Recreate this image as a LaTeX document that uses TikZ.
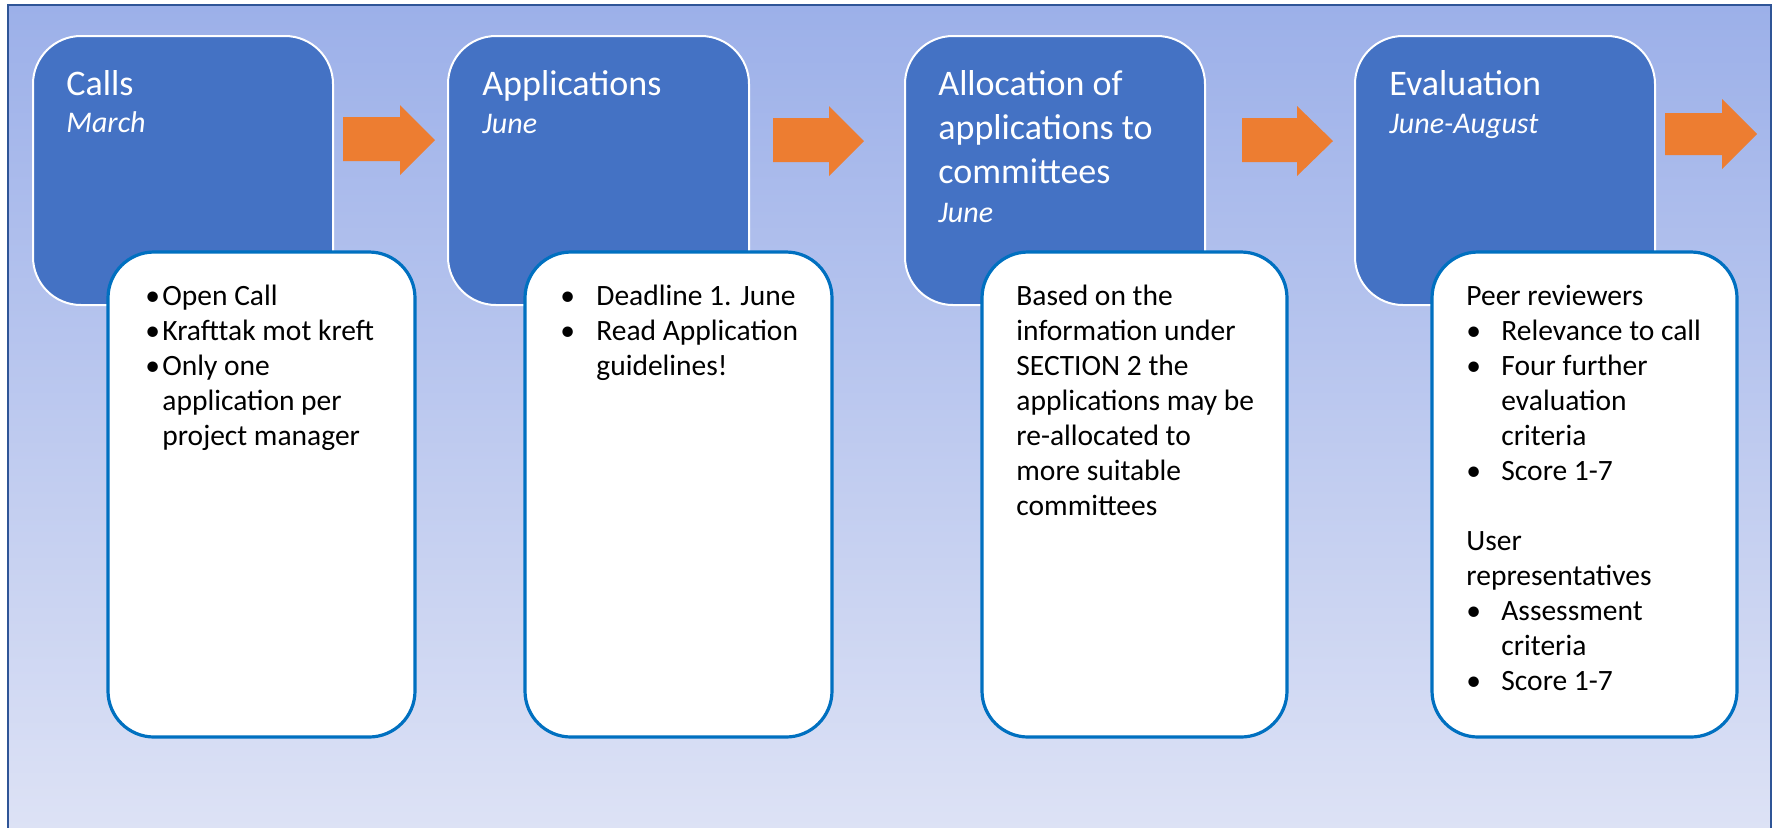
\documentclass[tikz,border=0pt]{standalone}
\usepackage{fontspec}
\setmainfont{Carlito}

\definecolor{bgtop}{HTML}{9CB0E9}
\definecolor{bgbot}{HTML}{DDE2F5}
\definecolor{framecol}{HTML}{2F5597}
\definecolor{phaseblue}{HTML}{4472C4}
\definecolor{noteblue}{HTML}{0070C0}
\definecolor{flowcol}{HTML}{ED7D31}

% bullet with a fixed gap, the matching hanging indent, and a top-aligned stack of lines
\newcommand{\bul}[1]{\makebox[#1][l]{\textbullet}}
\newcommand{\indentby}[1]{\hspace*{#1}}
\newcommand{\stack}[1]{\begin{tabular}[t]{@{}l@{}}#1\end{tabular}}

\begin{document}
\begin{tikzpicture}[x=0.5pt,y=-0.5pt,
  phase/.style={draw=white,line width=1pt,fill=phaseblue,rounded corners=24pt},
  note/.style={draw=noteblue,line width=1.6pt,fill=white,rounded corners=23pt},
  flow/.style={fill=flowcol},
  head/.style={anchor=base west,inner sep=0pt,text=white,font=\fontsize{18}{22}\selectfont},
  month/.style={anchor=base west,inner sep=0pt,text=white,font=\fontsize{15}{18}\selectfont\itshape},
  body/.style={anchor=base west,inner sep=0pt,font=\fontsize{14.75}{17.5}\selectfont}]%
\useasboundingbox (0,0) rectangle (1773,827);%
% background
\shade[shading angle=60,top color=bgtop,bottom color=bgbot] (8,5) rectangle (1771,830);%
\draw[framecol,line width=0.8pt] (8,5) rectangle (1771,830);%
% phase boxes
\draw[phase] (33,36) rectangle (333,305);%
\draw[phase] (448,36) rectangle (749,305);%
\draw[phase] (905,36) rectangle (1205,305);%
\draw[phase] (1355,36) rectangle (1655,305);%
% note boxes
\draw[note] (108,252) rectangle (415,737);%
\draw[note] (525,252) rectangle (832,737);%
\draw[note] (982,252) rectangle (1287,737);%
\draw[note] (1432,252) rectangle (1737,737);%
% arrows
\fill[flow] (343,117) -- (400,117) -- (400,105) -- (435,140) -- (400,175) -- (400,161) -- (343,161) -- cycle;%
\fill[flow] (773,118) -- (829,118) -- (829,106) -- (864,141) -- (829,176) -- (829,162) -- (773,162) -- cycle;%
\fill[flow] (1242,118) -- (1297,118) -- (1297,106) -- (1333,141) -- (1297,176) -- (1297,162) -- (1242,162) -- cycle;%
\fill[flow] (1665,113) -- (1722,113) -- (1722,99) -- (1757,134) -- (1722,169) -- (1722,155) -- (1665,155) -- cycle;%
% titles
\node[head] (calls) at (66,95) {Calls};%
\node[month] (callsdate) at (66,132) {March};%
\node[head] (apps) at (482,95) {Applications};%
\node[month] (appsdate) at (482,133) {June};%
\node[head] (alloc) at (938,95) {\stack{Allocation of\\applications to\\committees}};%
\node[month] (allocdate) at (938,222) {June};%
\node[head] (eval) at (1389,95) {Evaluation};%
\node[month] (evaldate) at (1389,133) {June-August};%
% notes
\node[body] (callsnote) at (145,305) {\stack{\bul{8.5pt}Open Call\\\bul{8.5pt}Krafttak mot kreft\\\bul{8.5pt}Only one\\\indentby{8.5pt}application per\\\indentby{8.5pt}project manager}};%
\node[body] (appsnote) at (560,305) {\stack{\bul{18pt}Deadline 1. June\\\bul{18pt}Read Application\\\indentby{18pt}guidelines!}};%
\node[body] (allocnote) at (1016,305) {\stack{Based on the\\information under\\SECTION 2 the\\applications may be\\re-allocated to\\more suitable\\committees}};%
\node[body] (evalnote) at (1466,305) {\stack{Peer reviewers\\\bul{17.5pt}Relevance to call\\\bul{17.5pt}Four further\\\indentby{17.5pt}evaluation\\\indentby{17.5pt}criteria\\\bul{17.5pt}Score 1-7\\[17.5pt]User\\representatives\\\bul{17.5pt}Assessment\\\indentby{17.5pt}criteria\\\bul{17.5pt}Score 1-7}};%
\end{tikzpicture}
\end{document}
